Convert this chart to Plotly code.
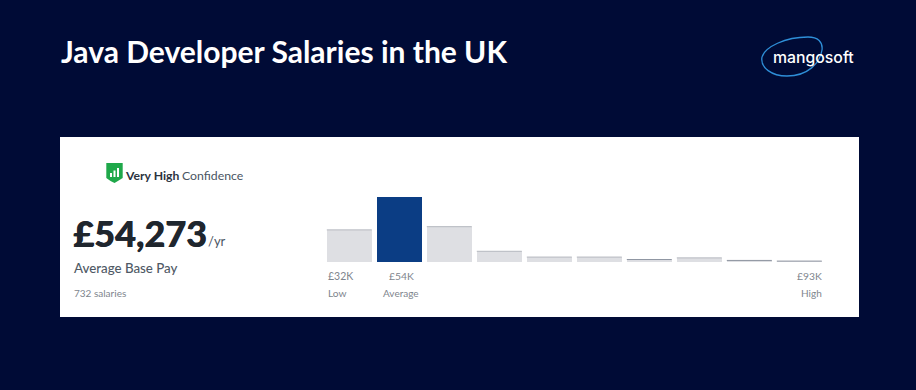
import plotly.graph_objects as go

W, H = 916, 390
bins = list(range(10))
counts = [143, 290, 158, 47, 22, 22, 11, 18, 7, 4]
bar_colors = ["#DEDFE3", "#0B3D84"] + ["#DEDFE3"] * 8
edge_color = "#BFC2C8"
thin_edge_color = "#8F96A2"
thin_limit = 12
title = "Java Developer Salaries in the UK"
confidence_strong = "Very High"
confidence_rest = "Confidence"
headline = "£54,273"
headline_unit = "/yr"
subhead = "Average Base Pay"
sample = "732 salaries"
low_value, low_label = "£32K", "Low"
avg_value, avg_label = "£54K", "Average"
high_value, high_label = "£93K", "High"
brand = "mangosoft"

def px(x): return x / W
def py(y): return 1 - y / H

def path(points):
    out = []
    for cmd, *vals in points:
        s = cmd
        for i in range(0, len(vals), 2):
            s += f" {px(vals[i]):.5f},{py(vals[i+1]):.5f}"
        out.append(s)
    return " ".join(out)

BAR_W = 0.9
edge_x, edge_y, thin_x, thin_y = [], [], [], []
for b, c, col in zip(bins, counts, bar_colors):
    if col == bar_colors[0]:
        xs, ys = (thin_x, thin_y) if c < thin_limit else (edge_x, edge_y)
        xs += [b - BAR_W / 2, b + BAR_W / 2, None]
        ys += [c, c, None]

fig = go.Figure()
fig.add_trace(go.Bar(x=bins, y=counts, width=BAR_W, marker_color=bar_colors,
                     marker_line_width=0, hoverinfo="skip"))
fig.add_trace(go.Scatter(x=edge_x, y=edge_y, mode="lines",
                         line=dict(color=edge_color, width=1.2), hoverinfo="skip"))
fig.add_trace(go.Scatter(x=thin_x, y=thin_y, mode="lines",
                         line=dict(color=thin_edge_color, width=1), hoverinfo="skip"))

def label(text, x, y, size, color, anchor="left", family="Lato", xref="paper", weight=400, shadow=None):
    font = dict(family=family, size=size, color=color, weight=weight)
    if shadow:
        font["shadow"] = shadow
    fig.add_annotation(
        text=text,
        x=x if xref == "x" else px(x), y=py(y), xref=xref, yref="paper",
        xanchor=anchor, yanchor="middle", showarrow=False, align=anchor, borderpad=0,
        font=font,
    )

label(title, 59.5, 51.5, 30, "#FFFFFF", weight=700)
label(confidence_strong, 124, 175.5, 12.2, "#2B3340", weight=700)
label(confidence_rest, 180.5, 175.5, 12.3, "#4A5563")
label(headline, 72, 233, 36, "#1F262E", weight=900, shadow="0.7px 0 0 #1F262E")
label(headline_unit, 207, 241, 13, "#4A5563")
label(subhead, 72.5, 268, 13.3, "#4F5965", weight=500)
label(sample, 73, 293, 10, "#7E858D")
label(low_value, -0.45, 276, 10.5, "#7E858D", "left", xref="x")
label(low_label, -0.45, 293, 10.2, "#7E858D", "left", xref="x")
label(avg_value, 1.04, 276, 10.3, "#7E858D", "center", xref="x")
label(avg_label, 1.04, 293, 10, "#7E858D", "center", xref="x")
label(high_value, 9.47, 276, 10.3, "#7E858D", "right", xref="x")
label(high_label, 9.47, 293, 10, "#7E858D", "right", xref="x")
label(brand, 772, 57.5, 15.8, "#FFFFFF", family="Inter", weight=500)

def icon_bar(x0, y0):
    return dict(type="rect", xref="paper", yref="paper", x0=px(x0), x1=px(x0 + 2), y0=py(177), y1=py(y0),
                fillcolor="#FFFFFF", line_width=0)

shapes = [
    dict(type="rect", xref="paper", yref="paper", x0=px(60), x1=px(859), y0=py(317), y1=py(137),
         fillcolor="#FFFFFF", line_width=0, layer="below"),
    dict(type="path", xref="paper", yref="paper", layer="above", fillcolor="#1FA84A", line_width=0,
         path=path([("M", 106.3, 163), ("L", 122.7, 163), ("L", 122.7, 178),
                    ("Q", 118, 181, 114.5, 183), ("Q", 110, 181, 106.3, 178), ("Z",)])),
    icon_bar(110, 173), icon_bar(113.5, 170.5), icon_bar(117, 168),
    dict(type="path", xref="paper", yref="paper", layer="below", line=dict(color="#2E8FD8", width=1.3),
         path=path([("M", 762, 57), ("C", 765, 47, 785, 37, 808, 37),
                    ("C", 818, 37, 823, 42, 822, 50), ("C", 820, 63, 808, 76, 787, 76),
                    ("C", 772, 76, 760, 68, 762, 57)])),
]

fig.update_layout(
    width=W, height=H, margin=dict(l=0, r=0, t=0, b=0), autosize=False,
    paper_bgcolor="#000B36", plot_bgcolor="rgba(0,0,0,0)", showlegend=False, bargap=0,
    xaxis=dict(domain=[px(324.3), px(824.3)], range=[-0.5, 9.5], visible=False, fixedrange=True),
    yaxis=dict(domain=[py(262), py(197)], range=[0, 290], visible=False, fixedrange=True),
    shapes=shapes,
)
fig.write_html("out.html", config={"displayModeBar": False},
               post_script="document.body.style.margin='0';document.documentElement.style.background='#000B36';")
